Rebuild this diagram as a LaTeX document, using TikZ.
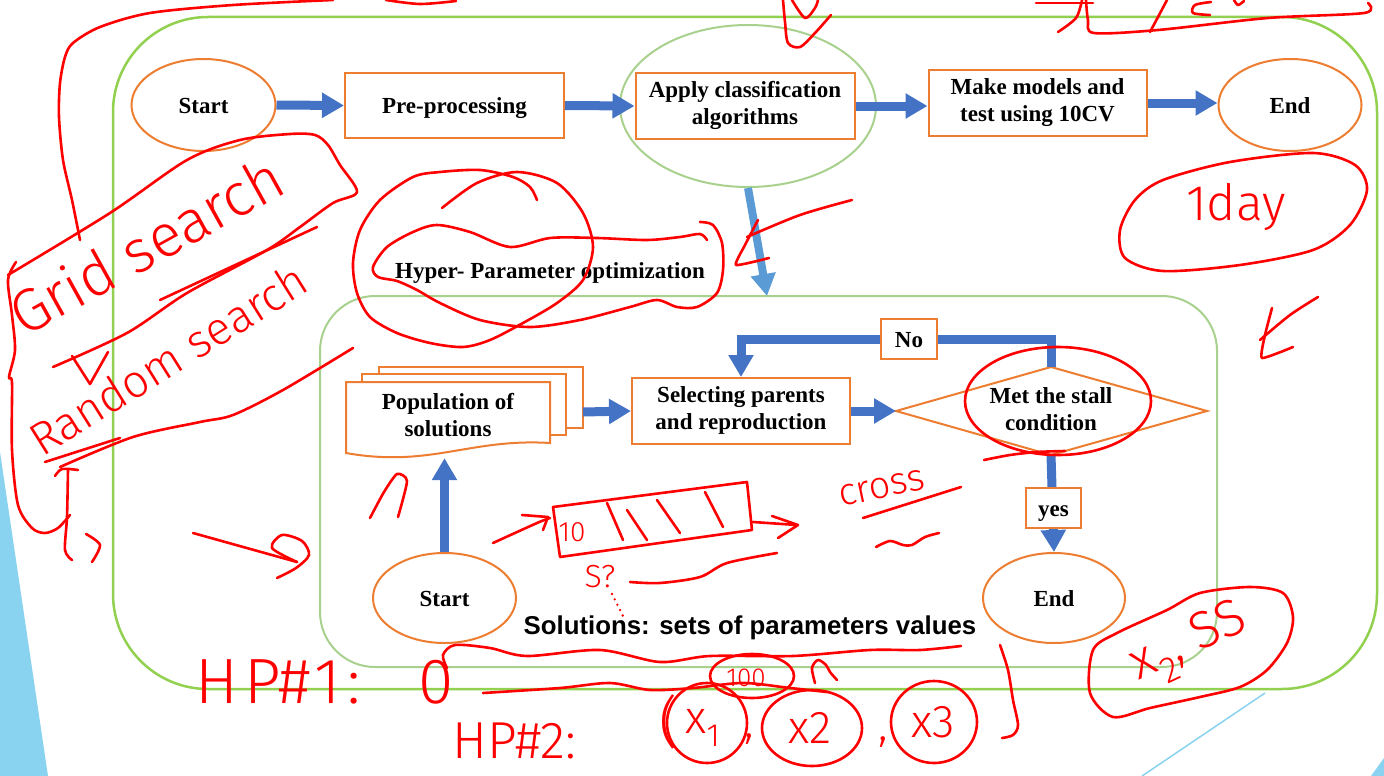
\documentclass[tikz,border=0pt]{standalone}
\usepackage{fontspec}
\setmainfont{Liberation Serif}
\newfontfamily\solfont{Liberation Sans}
\newfontfamily\handfont{Fira Sans Light}
\usetikzlibrary{shapes.geometric,arrows.meta,calc}

\definecolor{edgeorange}{RGB}{237,125,49}
\definecolor{flowblue}{RGB}{68,114,196}
\definecolor{skyflow}{RGB}{91,155,213}
\definecolor{framegreen}{RGB}{146,208,80}
\definecolor{palegreen}{RGB}{169,209,142}
\definecolor{slideblue}{RGB}{137,211,240}
\definecolor{ink}{RGB}{255,0,0}

\tikzset{
  txt/.style={align=center, font=\fontsize{23}{27}\selectfont\bfseries,
              execute at begin node={\rule[-5.5pt]{0pt}{27.5pt}},
              execute at end node={\rule[-5.5pt]{0pt}{0pt}}},
  proc/.style={txt, draw=edgeorange, line width=2pt, fill=white, inner sep=0pt},
  term/.style={proc, ellipse},
  tagbox/.style={proc},
  flow/.style={draw=flowblue, line width=9pt, -{Triangle[width=24pt,length=22pt]}},
  pen/.style={draw=ink, line width=2.6pt, line cap=round, line join=round},
  scrawl/.style={text=ink, inner sep=0pt, font=\handfont\fontsize{#1}{#1}\selectfont},
}

\begin{document}
\begin{tikzpicture}[x=1pt,y=-1pt]
\useasboundingbox (0,0) rectangle (1384,776);
\fill[white] (0,0) rectangle (1384,776);

% slide decoration
\fill[slideblue] (0,452) -- (48,776) -- (0,776) -- cycle;
\draw[slideblue, line width=1.5pt] (1265,693) -- (1142,776);
\fill[slideblue] (1384,758) -- (1384,776) -- (1371,776) -- cycle;

% frames
\node[draw=framegreen, line width=2.5pt, rounded corners=95pt, inner sep=0pt,
      minimum width=1264pt, minimum height=672pt] (outer) at (745,353) {};
\node[draw=palegreen, line width=2pt, rounded corners=55pt, inner sep=0pt,
      minimum width=897pt, minimum height=371pt] (inner) at (768.5,481.5) {};
\node[draw=palegreen, line width=2pt, ellipse, inner sep=0pt,
      minimum width=256pt, minimum height=162pt] (ring) at (748,106) {};

% main pipeline
\node[term, minimum width=144pt, minimum height=92pt] (start1) at (203.5,105) {Start};
\node[proc, minimum width=219pt, minimum height=65pt] (pre) at (454.5,105.5) {Pre-processing};
\node[proc, minimum width=219pt, minimum height=66pt] (apply) at (745,106) {Apply classification\\algorithms};
\node[proc, minimum width=218pt, minimum height=66pt] (make) at (1037.5,103) {Make models and\\test using 10CV};
\node[term, minimum width=143pt, minimum height=92pt] (end1) at (1290,105) {End};

\draw[flow] (start1.east) -- (pre.west);
\draw[flow] (pre.east) -- (apply.west);
\draw[flow] (apply.east) -- (apply.east -| make.west);
\draw[flow] (make.east) -- (make.east -| end1.west);

\coordinate (hpin) at (767,296);
\draw[flow, draw=skyflow, line width=8pt] (ring.south) -- (hpin);
\node[txt, inner sep=0pt] (hpo) at (550,270) {Hyper- Parameter optimization};

% genetic search loop
\draw[draw=edgeorange, line width=2pt, fill=white] (379,367) rectangle (583,428);
\draw[draw=edgeorange, line width=2pt, fill=white] (362,374) rectangle (566,435);
\draw[draw=edgeorange, line width=2pt, fill=white] (346,382) -- (550,382) -- (550,443)
  .. controls (470,438) and (430,468) .. (346,453) -- cycle;
\node[txt, inner sep=0pt, minimum width=204pt, minimum height=80pt] (pop) at (448,418) {Population of\\solutions};
\coordinate (stackR) at (583,412);

\node[proc, minimum width=218pt, minimum height=66pt] (sel) at (741,411) {Selecting parents\\and reproduction};

\coordinate (dW) at (896,411);
\coordinate (dN) at (1051,367);
\coordinate (dE) at (1207,411);
\coordinate (dS) at (1051,455);
\draw[draw=edgeorange, line width=2pt, fill=white] (dW) -- (dN) -- (dE) -- (dS) -- cycle;
\node[txt, inner sep=0pt] (stall) at (1051,412) {Met the stall\\condition};

\node[term, minimum width=142pt, minimum height=90pt] (end2) at (1054,598) {End};
\node[term, minimum width=143pt, minimum height=90pt] (start2) at (444.5,598) {Start};

\draw[flow] (stackR) -- (sel.west);
\draw[flow] (sel.east) -- (dW);
\coordinate (nopos) at (909,339);
\draw[flow] (dN) |- (nopos) -| (sel.north);
\draw[flow] (dS) -- (end2.north);
\draw[flow] (start2.north) -- (start2.north |- pop.south);

\node[tagbox, minimum width=56pt, minimum height=40pt] (no) at (nopos) {No};
\node[tagbox, minimum width=55pt, minimum height=40pt] (yes) at (1053.5,508) {yes};

\node[font=\solfont\bfseries\fontsize{25.8}{30}\selectfont, anchor=base] (sol) at (750,634)
  {Solutions: sets of parameters values};

% ---------------- pen notes ----------------
% sweep along the top left
\draw[pen] plot[smooth] coordinates {(333,0) (233,5) (150,13) (100,27) (73,43) (65,57) (60,83) (59,117) (63,160) (72,200) (80,240)};
\draw[pen] plot[smooth] coordinates {(386,0) (420,4) (456,1)};
% brace on the left
\draw[pen] plot[smooth] coordinates {(16,262) (8,280) (12,315) (15,350) (9,377) (12,383) (12,450) (18,505) (32,528) (45,533) (58,528) (70,515)};
\draw[pen] plot[smooth] coordinates {(55,476) (62,469) (78,470)};
\draw[pen] plot[smooth] coordinates {(68,470) (67,517) (65,550) (72,560)};
\draw[pen] plot[smooth] coordinates {(86,534) (100,545) (92,562)};

% grid / random search
\draw[pen] plot[smooth, tension=0.5] coordinates {(8,275) (110,213) (187,160) (240,140) (290,134) (315,135) (328,145) (340,165) (357,192) (333,203) (300,227) (267,250) (187,293) (127,333) (53,367)};
\draw[pen] (160,300) -- (317,227);
\draw[pen] (72,356) -- (90,384) -- (108,352);
\node[scrawl=60, rotate=29, anchor=base west] (gridtxt) at (24,338) {Grid search};
\node[scrawl=46, rotate=32, anchor=base west] (randtxt) at (42,458) {Random search};
\draw[pen] (45,462) -- (120,438);
\draw[pen] plot[smooth] coordinates {(60,467) (133,437) (200,422) (233,415) (283,390) (353,348)};

% swirl arrow and mark under the stack
\draw[pen] (193,533) -- (297,562);
\draw[pen] plot[smooth] coordinates {(297,562) (272,548) (282,535) (302,541) (309,555) (296,568) (277,578)};
\draw[pen] plot[smooth, tension=0.4] coordinates {(370,518) (384,492) (397,474) (407,481) (398,517)};

% rings around the optimisation title
\draw[pen] plot[smooth] coordinates {(442,208) (477,183) (517,172) (557,183) (583,213) (593,247) (583,280) (557,303) (523,323) (490,340) (463,347) (430,343) (397,333) (370,317) (357,293) (353,263) (360,230) (380,200) (413,177) (440,172) (480,170) (513,177) (530,187) (537,200)};
\draw[pen] plot[smooth] coordinates {(707,240) (700,234) (680,237) (647,240) (597,238) (550,238) (510,247) (470,232) (437,225) (413,232) (387,247) (373,267) (378,277) (397,281) (417,290) (440,303) (480,320) (530,327) (580,320) (630,307) (657,300) (677,307) (697,307) (717,293) (723,270) (722,243) (713,225) (700,222)};
\draw[pen] plot[smooth] coordinates {(852,200) (800,215) (747,237)};
\draw[pen] plot[smooth, tension=0.3] coordinates {(758,220) (745,245) (736,265) (769,258)};

% notes along the top edge
\draw[pen] plot[smooth] coordinates {(783,0) (785,22) (788,43) (800,47) (815,33) (831,15)};
\draw[pen] plot[smooth] coordinates {(792,0) (805,18) (815,8) (818,0)};
\draw[pen] (1036,3) -- (1093,3);
\draw[pen] plot[smooth] coordinates {(1082,0) (1076,18) (1058,32)};
\draw[pen] plot[smooth] coordinates {(1086,0) (1088,20) (1094,33) (1158,30) (1268,18) (1364,13) (1368,3)};
\draw[pen] plot[smooth] coordinates {(1167,0) (1158,17) (1150,32)};
\draw[pen] plot[smooth] coordinates {(1211,2) (1195,5) (1193,13) (1210,15)};
\draw[pen] plot[smooth] coordinates {(1234,0) (1238,5) (1244,1)};

% one day
\draw[pen] plot[smooth cycle] coordinates {(1163,180) (1230,162) (1313,153) (1355,165) (1367,190) (1350,225) (1313,250) (1240,265) (1163,271) (1125,258) (1120,230) (1135,200)};
\node[scrawl=50] (oneday) at (1236,207) {1day};
\draw[pen] plot[smooth] coordinates {(1318,297) (1290,315) (1260,340)};
\draw[pen] plot[smooth, tension=0.3] coordinates {(1272,308) (1265,335) (1262,358) (1293,347)};

% stall condition ring
\draw[pen] (1058,401) ellipse [x radius=93pt, y radius=54pt];
\draw[pen] plot[smooth] coordinates {(984,460) (1010,455) (1037,452) (1065,451)};

% chromosome sketch
\draw[pen] (553,507) -- (747,482) -- (752,530) -- (560,557) -- cycle;
\draw[pen] (607,503) -- (623,540);
\draw[pen] (627,510) -- (647,540);
\draw[pen] (657,500) -- (680,533);
\draw[pen] (705,492) -- (723,527);
\node[scrawl=28] (bits) at (572,532) {10};
\draw[pen] plot[smooth] coordinates {(493,543) (537,523) (550,518)};
\draw[pen] (522,515) -- (548,517) -- (543,530);
\draw[pen] (753,522) -- (797,525);
\draw[pen] (772,516) -- (798,525) -- (778,538);
\node[scrawl=32] (sp) at (600,577) {S?};
\draw[pen, dash pattern=on 0pt off 6pt] (612,594) -- (623,616);
\draw[pen] plot[smooth] coordinates {(630,582) (660,583) (700,577) (727,563) (777,553)};
\node[scrawl=38, rotate=12] (crosstxt) at (882,488) {cross};
\draw[pen] (863,518) -- (961,487);
\draw[pen] plot[smooth] coordinates {(876,547) (890,541) (903,545) (912,545) (925,537) (939,533)};

% hyper-parameter ranges
\draw[pen] plot[smooth] coordinates {(447,668) (443,655) (455,645) (490,648) (527,656) (600,650) (660,662) (710,656) (793,656) (870,650) (920,650) (961,646)};
\node[scrawl=64, anchor=base west] (hp1) at (195,703) {H\hspace{6pt}P\#\hspace{4pt}1\hspace{6pt}:\hspace{58pt}0};
\draw[pen] plot[smooth] coordinates {(483,693) (560,688) (610,683) (650,690) (693,688) (743,683) (790,688) (827,692)};
\node[scrawl=26] (hundred) at (746,678) {100};
\draw[pen] (752,676) ellipse [x radius=42pt, y radius=22pt];
\draw[pen] plot[smooth] coordinates {(815,683) (812,668) (818,660) (826,665) (830,672) (837,680)};

\node[scrawl=52, anchor=base west] (hp2) at (452,758) {HP\#2:};
\node[scrawl=56] (lp) at (669,722) {(};
\node[scrawl=46] (xa) at (703,728) {x\textsubscript{1}};
\node[scrawl=46, anchor=base] (c1) at (749,737) {,};
\node[scrawl=46] (xb) at (810,728) {x2};
\node[scrawl=46, anchor=base] (c2) at (883,740) {,};
\node[scrawl=46] (xc) at (933,722) {x3};
\draw[pen] (707,723) ellipse [x radius=40pt, y radius=40pt];
\draw[pen] (812,728) ellipse [x radius=50pt, y radius=38pt];
\draw[pen] (934,722) ellipse [x radius=43pt, y radius=41pt];
\draw[pen] plot[smooth] coordinates {(1000,645) (1008,670) (1013,700) (1018,725) (1013,735) (1002,738)};

% chosen values
\draw[pen] plot[smooth cycle] coordinates {(1093,650) (1117,633) (1167,610) (1200,593) (1250,587) (1283,593) (1293,617) (1287,643) (1267,670) (1240,687) (1200,697) (1150,708) (1113,717) (1090,693)};
\node[scrawl=52, rotate=25] (pick) at (1190,645) {x\textsubscript{2}, SS};

\end{tikzpicture}
\end{document}
